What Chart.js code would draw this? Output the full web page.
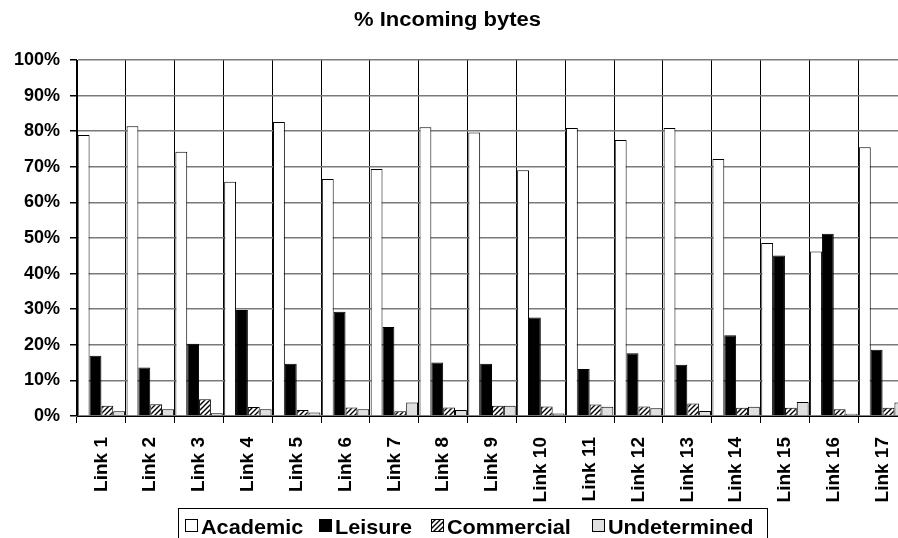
<!DOCTYPE html>
<html>
<head>
<meta charset="utf-8">
<title>% Incoming bytes</title>
<script src="https://cdn.jsdelivr.net/npm/chart.js@4.4.1/dist/chart.umd.min.js"></script>
<style>
  html, body { margin: 0; padding: 0; background: #fff; overflow: hidden; }
  #wrap { width: 936px; height: 538px; }
</style>
</head>
<body>
<div id="wrap"><canvas id="chart" width="936" height="538"></canvas></div>
<script>
// values (percent of incoming bytes per link)
const links = ['Link 1','Link 2','Link 3','Link 4','Link 5','Link 6','Link 7','Link 8','Link 9',
               'Link 10','Link 11','Link 12','Link 13','Link 14','Link 15','Link 16','Link 17'];
const academic     = [78.9, 81.4, 74.2, 65.8, 82.6, 66.6, 69.4, 81.1, 79.6, 69.0, 80.9, 77.5, 80.9, 72.2, 48.6, 46.2, 75.5];
const leisure      = [16.9, 13.6, 20.3, 29.8, 14.7, 29.3, 25.0, 15.0, 14.7, 27.7, 13.2, 17.6, 14.4, 22.7, 45.1, 51.2, 18.6];
const commercial   = [2.9, 3.3, 4.7, 2.5, 1.7, 2.4, 1.3, 2.4, 2.9, 2.7, 3.2, 2.7, 3.5, 2.3, 2.3, 1.9, 2.3];
const undetermined = [1.3, 1.9, 0.8, 1.9, 1.0, 1.9, 3.8, 1.7, 2.9, 0.7, 2.6, 2.2, 1.4, 2.6, 3.9, 0.6, 3.8];
const seriesNames  = ['Academic', 'Leisure', 'Commercial', 'Undetermined'];
const yTicks       = [0, 10, 20, 30, 40, 50, 60, 70, 80, 90, 100];

const ctx = document.getElementById('chart').getContext('2d');
const FONT = '"Liberation Sans", Arial, sans-serif';

// diagonal hatch used for "Commercial"
function makeHatch() {
    const c = document.createElement('canvas');
    c.width = c.height = 5;
    const g = c.getContext('2d');
    g.fillStyle = '#fff';
    g.fillRect(0, 0, 5, 5);
    g.strokeStyle = '#000';
    g.lineWidth = 1.4;
    g.beginPath();
    g.moveTo(0, 5); g.lineTo(5, 0);
    g.moveTo(-1, 1); g.lineTo(1, -1);
    g.moveTo(4, 6); g.lineTo(6, 4);
    g.stroke();
    return ctx.createPattern(c, 'repeat');
}
const hatch = makeHatch();
const fills = ['#ffffff', '#000000', hatch, '#e0e0e0'];

// text a bit wider than plain Arial, like the original export
function wideText(c, txt, x, y, sx) {
    c.save();
    c.translate(x, y);
    c.scale(sx, 1);
    c.fillText(txt, 0, 0);
    c.restore();
}

// title + Excel style legend box, drawn on top
const decor = {
    id: 'decor',
    afterDraw(chart) {
        const c = chart.ctx;
        c.save();
        c.fillStyle = '#000';
        c.textBaseline = 'alphabetic';
        c.font = 'bold 20px ' + FONT;
        c.textAlign = 'center';
        wideText(c, '% Incoming bytes', 447.5, 26, 1.1);

        c.strokeStyle = '#000';
        c.lineWidth = 1;
        c.strokeRect(178.5, 508.5, 589, 40);

        const starts = [185, 319, 431, 592];
        c.font = 'bold 21px ' + FONT;
        c.textAlign = 'left';
        seriesNames.forEach((name, i) => {
            const x = starts[i];
            c.fillStyle = fills[i];
            c.fillRect(x, 519, 13, 13);
            c.strokeRect(x + 0.5, 519.5, 12, 12);
            c.fillStyle = '#000';
            wideText(c, name, x + 16, 534, 1.03);
        });
        c.restore();
    }
};

const datasets = [academic, leisure, commercial, undetermined].map((d, i) => ({
    label: seriesNames[i],
    data: d,
    backgroundColor: fills[i],
    borderColor: '#000',
    borderWidth: 1,
    borderSkipped: 'bottom',
    categoryPercentage: 0.97,
    barPercentage: 1
}));

new Chart(ctx, {
    type: 'bar',
    data: { labels: links, datasets },
    plugins: [decor],
    options: {
        responsive: false,
        animation: false,
        layout: { padding: { top: 60, right: 29, left: 0, bottom: 0 } },
        plugins: {
            legend: { display: false },
            title: { display: false },
            tooltip: { enabled: false }
        },
        scales: {
            x: {
                grid: { offset: true, color: '#000', lineWidth: 1, tickLength: 7, tickColor: '#000' },
                border: { color: '#000', width: 1 },
                ticks: {
                    color: '#000',
                    minRotation: 90, maxRotation: 90,
                    padding: 14,
                    autoSkip: false,
                    font: { family: FONT, weight: 'bold', size: 19 }
                },
                afterFit(s) { s.height = 122; }
            },
            y: {
                min: 0, max: 100,
                afterBuildTicks(s) { s.ticks = yTicks.map(v => ({ value: v })); },
                grid: { color: '#7a7a7a', lineWidth: 1.5, tickLength: 7, tickColor: '#000' },
                border: { color: '#000', width: 1 },
                ticks: {
                    color: '#000',
                    padding: 10,
                    font: { family: FONT, weight: 'bold', size: 18 },
                    callback: v => v + '%'
                },
                afterFit(s) { s.width = 77; }
            }
        }
    }
});
</script>
</body>
</html>
